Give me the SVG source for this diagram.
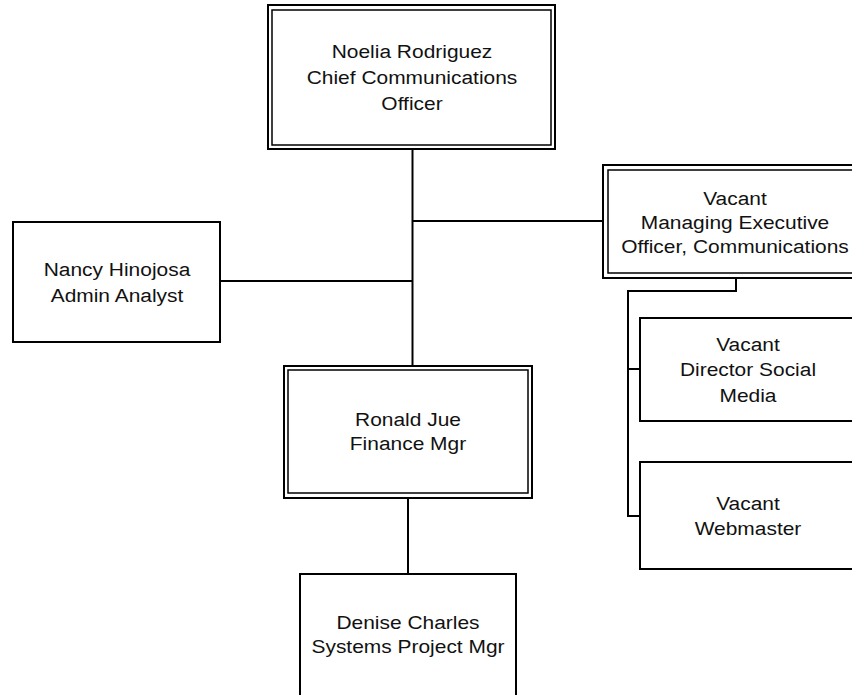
<svg xmlns="http://www.w3.org/2000/svg" width="852" height="695" viewBox="0 0 852 695">
<style>
.box{fill:#fff;stroke:#000;stroke-width:2}
.inner{fill:none;stroke:#000;stroke-width:1.5}
.lbl{font-family:"Liberation Sans",Arial,sans-serif;font-size:18.7px;fill:#111;text-anchor:middle}
.con{fill:none;stroke:#000;stroke-width:2}
</style>
<rect width="852" height="695" fill="#fff"/>
<g id="connectors">
<path class="con" d="M412.5,149 V366"/>
<path class="con" d="M412.5,221 H603"/>
<path class="con" d="M220,281 H412.5"/>
<path class="con" d="M408,498 V574"/>
<path class="con" d="M736,278 V291 H628 V516 H640"/>
<path class="con" d="M628,369 H640"/>
</g>
<g id="n-noelia">
<rect class="box" x="268" y="5" width="287" height="144"/>
<rect class="inner" x="272" y="10" width="279" height="135"/>
<g transform="translate(412 0) scale(1.12 1)">
<text class="lbl" x="0" y="58">Noelia Rodriguez</text>
<text class="lbl" x="0" y="84">Chief Communications</text>
<text class="lbl" x="0" y="110">Officer</text>
</g>
</g>
<g id="n-meo">
<rect class="box" x="603" y="165" width="265" height="113"/>
<rect class="inner" x="608" y="170" width="255" height="103"/>
<g transform="translate(735 0) scale(1.12 1)">
<text class="lbl" x="0" y="205">Vacant</text>
<text class="lbl" x="0" y="229">Managing Executive</text>
<text class="lbl" x="0" y="253">Officer, Communications</text>
</g>
</g>
<g id="n-nancy">
<rect class="box" x="13" y="222" width="207" height="120"/>
<g transform="translate(117 0) scale(1.12 1)">
<text class="lbl" x="0" y="276">Nancy Hinojosa</text>
<text class="lbl" x="0" y="302">Admin Analyst</text>
</g>
</g>
<g id="n-director">
<rect class="box" x="640" y="318" width="220" height="103"/>
<g transform="translate(748 0) scale(1.12 1)">
<text class="lbl" x="0" y="351">Vacant</text>
<text class="lbl" x="0" y="376">Director Social</text>
<text class="lbl" x="0" y="402">Media</text>
</g>
</g>
<g id="n-webmaster">
<rect class="box" x="640" y="462" width="220" height="107"/>
<g transform="translate(748 0) scale(1.12 1)">
<text class="lbl" x="0" y="510">Vacant</text>
<text class="lbl" x="0" y="535">Webmaster</text>
</g>
</g>
<g id="n-ronald">
<rect class="box" x="284" y="366" width="248" height="132"/>
<rect class="inner" x="288" y="370" width="240" height="123"/>
<g transform="translate(408 0) scale(1.12 1)">
<text class="lbl" x="0" y="426">Ronald Jue</text>
<text class="lbl" x="0" y="450">Finance Mgr</text>
</g>
</g>
<g id="n-denise">
<rect class="box" x="300" y="574" width="216" height="140"/>
<g transform="translate(408 0) scale(1.12 1)">
<text class="lbl" x="0" y="629">Denise Charles</text>
<text class="lbl" x="0" y="653">Systems Project Mgr</text>
</g>
</g>
</svg>
